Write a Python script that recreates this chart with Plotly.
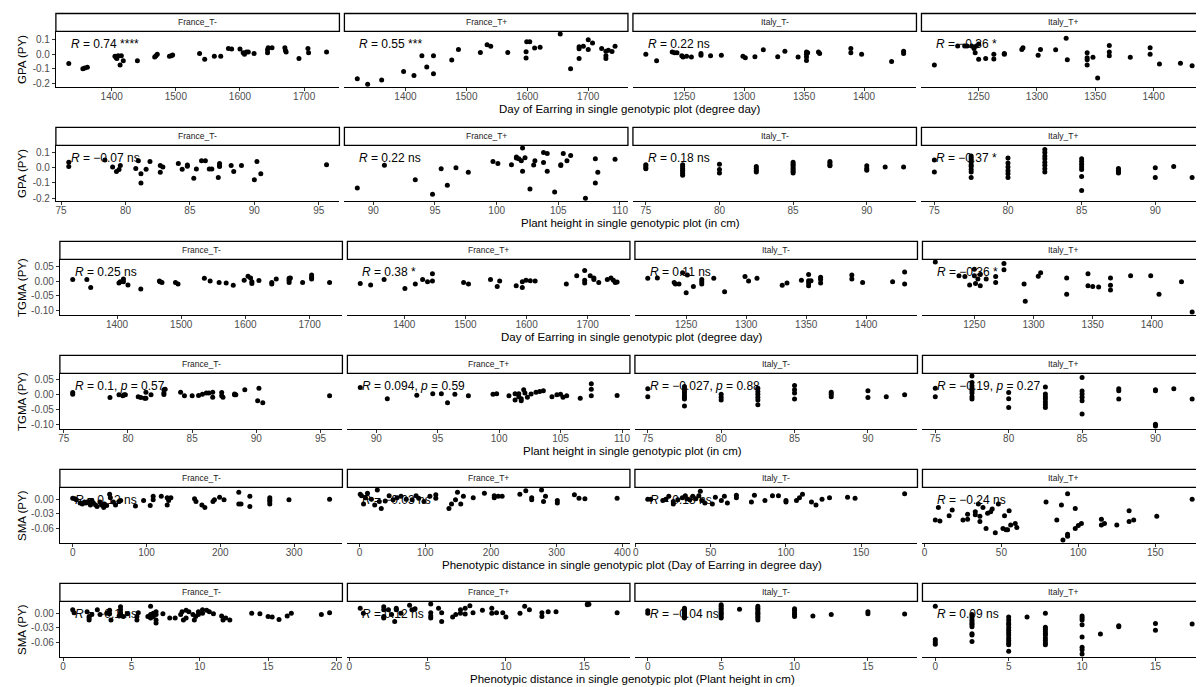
import plotly.graph_objects as go

FIG_W, FIG_H = 1204, 687
PAGE_OFF = 8  # browser default body margin

panel_names = ["France_T-", "France_T+", "Italy_T-", "Italy_T+"]
y_titles = ["GPA (PY)", "GPA (PY)", "TGMA (PY)", "TGMA (PY)", "SMA (PY)", "SMA (PY)"]
x_titles = [
    "Day of Earring in single genotypic plot (degree day)",
    "Plant height in single genotypic plot (in cm)",
    "Day of Earring in single genotypic plot (degree day)",
    "Plant height in single genotypic plot (in cm)",
    "Phenotypic distance in single genotypic plot (Day of Earring in degree day)",
    "Phenotypic distance in single genotypic plot (Plant height in cm)",
]

# y tick labels per row
gpa_ticks = [0.1, 0.0, -0.1, -0.2]
gpa_ticktext = ["0.1", "0.0", "-0.1", "-0.2"]
tgma_ticks = [0.05, 0.0, -0.05, -0.10]
tgma_ticktext = ["0.05", "0.00", "-0.05", "-0.10"]
sma_ticks = [0.0, -0.03, -0.06]
sma_ticktext = ["0.00", "-0.03", "-0.06"]

# x tick labels per panel
doe_fr_ticks = [1400, 1500, 1600, 1700]
doe_it_ticks = [1250, 1300, 1350, 1400]
ph_frm_ticks = [75, 80, 85, 90, 95]
ph_frp_ticks = [90, 95, 100, 105, 110]
ph_it_ticks = [75, 80, 85, 90]
dd_frm_ticks = [0, 100, 200, 300]
dd_frp_ticks = [0, 100, 200, 300, 400]
dd_it_ticks = [0, 50, 100, 150]
dh_frm_ticks = [0, 5, 10, 15, 20]
dh_ticks = [0, 5, 10, 15]

# correlation labels
r1_labels = ["<i>R</i> = 0.74 ****", "<i>R</i> = 0.55 ***", "<i>R</i> = 0.22 ns", "<i>R</i> = −0.36 *"]
r2_labels = ["<i>R</i> = −0.07 ns", "<i>R</i> = 0.22 ns", "<i>R</i> = 0.18 ns", "<i>R</i> = −0.37 *"]
r3_labels = ["<i>R</i> = 0.25 ns", "<i>R</i> = 0.38 *", "<i>R</i> = 0.11 ns", "<i>R</i> = −0.36 *"]
r4_labels = ["<i>R</i> = 0.1, <i>p</i> = 0.57", "<i>R</i> = 0.094, <i>p</i> = 0.59",
             "<i>R</i> = −0.027, <i>p</i> = 0.88", "<i>R</i> = −0.19, <i>p</i> = 0.27"]
r5_labels = ["<i>R</i> = 0.12 ns", "<i>R</i> = −0.03 ns", "<i>R</i> = 0.13 ns", "<i>R</i> = −0.24 ns"]
r6_labels = ["<i>R</i> = −0.1 ns", "<i>R</i> = 0.12 ns", "<i>R</i> = −0.04 ns", "<i>R</i> = 0.09 ns"]

# ---------------- Row 1: GPA vs Day of Earring ----------------
r1_p1_x = [1333,1355,1358,1362,1405,1407,1408,1410,1413,1415,1418,1440,1467,1469,1471,1490,1493,1495,1537,1545,1560,1570,1582,1587,1600,1605,1607,1610,1613,1622,1643,1643,1644,1650,1670,1671,1672,1692,1706,1707,1735]
r1_p1_y = [-0.065,-0.100,-0.095,-0.090,-0.015,-0.025,-0.030,-0.010,-0.075,-0.010,-0.045,-0.045,-0.020,-0.010,0.000,-0.015,-0.010,-0.005,0.005,-0.035,-0.015,-0.015,0.040,0.035,0.035,0.010,0.000,0.015,0.015,0.005,0.010,0.030,0.045,0.045,0.045,0.025,0.015,-0.030,0.040,0.010,0.015]
r1_p2_x = [1321,1338,1361,1397,1414,1427,1435,1446,1446,1476,1487,1523,1534,1540,1568,1599,1604,1598,1598,1612,1621,1654,1671,1685,1685,1685,1692,1700,1700,1707,1722,1729,1729,1729,1733,1739,1744]
r1_p2_y = [-0.170,-0.207,-0.178,-0.120,-0.147,-0.010,-0.088,-0.010,-0.135,-0.040,0.033,0.012,0.065,0.055,0.012,0.085,0.085,0.016,-0.027,0.043,0.048,0.140,-0.100,0.038,0.052,-0.030,0.055,0.100,0.033,0.078,0.040,0.020,-0.010,-0.030,0.027,0.018,0.055]
r1_p3_x = [1218,1227,1240,1242,1244,1248,1249,1252,1256,1264,1264,1272,1281,1299,1301,1309,1316,1328,1334,1345,1352,1352,1352,1352,1353,1362,1363,1389,1389,1398,1423,1433,1433]
r1_p3_y = [0.000,-0.045,0.015,0.010,0.010,-0.010,-0.020,-0.015,-0.020,0.005,-0.007,-0.010,-0.007,-0.015,-0.025,-0.017,0.030,-0.017,0.020,-0.020,0.015,0.000,-0.020,-0.043,0.010,0.015,0.005,0.040,0.010,0.000,-0.050,0.020,0.005]
r1_p4_x = [1212,1232,1238,1240,1244,1246,1247,1248,1250,1250,1256,1263,1263,1272,1272,1287,1288,1301,1303,1316,1325,1326,1343,1343,1343,1343,1348,1352,1362,1362,1362,1380,1397,1397,1405,1423,1433]
r1_p4_y = [-0.075,0.057,0.057,0.057,0.057,0.040,0.010,0.057,0.070,-0.035,-0.030,0.000,-0.033,0.000,0.005,0.033,0.045,-0.007,0.033,0.030,0.110,-0.038,0.010,-0.025,-0.038,-0.075,-0.022,-0.165,0.060,0.015,-0.010,-0.022,0.045,0.000,-0.067,-0.062,-0.080]

# ---------------- Row 2: GPA vs Plant height ----------------
r2_p1_x = [75.6,75.6,78.4,79.0,79.3,79.5,79.6,80.8,81.0,81.2,81.2,81.6,81.9,82.7,82.7,82.9,84.1,84.4,84.8,84.8,85.3,85.5,85.9,86.2,86.5,86.7,87.2,87.3,87.3,87.3,88.2,88.4,89.0,90.0,90.2,90.5,95.6]
r2_p1_y = [0.035,0.007,0.050,0.005,-0.025,-0.012,0.015,-0.005,0.045,-0.040,-0.100,-0.010,0.040,0.015,-0.030,0.005,0.027,-0.010,0.017,0.010,-0.070,-0.008,0.045,0.045,-0.008,-0.008,-0.065,0.027,0.015,0.007,0.015,-0.025,0.015,-0.080,0.040,-0.040,0.020]
r2_p2_x = [88.7,90.9,93.4,94.8,95.5,96.0,96.7,97.7,99.7,100.1,101.2,101.6,101.6,101.8,102.0,102.1,102.1,102.3,102.7,103.0,103.1,103.8,104.1,103.8,104.1,104.7,105.2,105.2,105.4,105.7,106.0,107.2,108.0,108.0,108.2,109.6]
r2_p2_y = [-0.133,0.016,-0.080,-0.175,-0.007,-0.116,0.000,-0.030,0.040,0.028,0.020,0.070,0.063,0.058,0.045,0.130,-0.023,0.065,-0.140,0.018,0.045,0.100,0.093,0.034,-0.023,-0.160,0.020,0.015,0.093,0.045,0.080,-0.200,0.058,-0.100,-0.030,0.055]
r2_p3_x = [75,75,75,75,77.5,77.5,77.5,77.5,77.5,77.5,77.5,80,80,80,82.5,82.5,82.5,82.5,85,85,85,85,85,85,85,87.5,87.5,87.5,87.5,90,90,90,91.25,92.5]
r2_p3_y = [0.020,0.012,0.000,-0.007,0.020,0.007,-0.005,-0.016,-0.028,-0.040,-0.050,0.023,-0.012,-0.035,0.007,-0.005,-0.019,-0.028,0.035,0.023,0.012,0.000,-0.012,-0.023,-0.035,0.040,0.030,0.018,0.012,0.012,-0.005,-0.016,0.005,0.005]
r2_p4_x = [75,75,77.5,77.5,77.5,77.5,77.5,77.5,77.5,77.5,77.5,80,80,80,80,80,80,82.5,82.5,82.5,82.5,82.5,82.5,82.5,82.5,85,85,85,85,85,85,85,87.5,87.5,87.5,87.5,90,90,91.25,92.5]
r2_p4_y = [0.050,-0.028,0.077,0.063,0.050,0.035,0.018,0.007,-0.012,-0.028,-0.065,0.063,0.030,0.005,-0.020,-0.040,-0.065,0.120,0.100,0.077,0.058,0.035,0.016,-0.007,-0.028,0.058,0.040,0.023,0.005,-0.012,-0.058,-0.150,-0.005,-0.016,-0.028,-0.035,0.000,-0.065,0.007,-0.065]

# ---------------- Row 3: TGMA vs Day of Earring ----------------
r3_p1_x = [1331,1353,1359,1403,1405,1410,1410,1417,1437,1466,1467,1470,1491,1495,1536,1545,1559,1570,1581,1598,1604,1608,1610,1610,1621,1641,1641,1648,1668,1668,1668,1670,1689,1703,1703,1703,1731]
r3_p1_y = [0.005,0.005,-0.022,-0.007,-0.002,0.007,-0.002,-0.013,-0.027,0.000,-0.002,-0.005,-0.005,-0.010,0.009,0.000,-0.005,-0.007,-0.014,0.003,0.016,0.010,-0.002,-0.008,0.002,-0.005,-0.010,0.007,0.009,0.003,-0.005,0.010,-0.005,0.020,0.013,0.007,-0.005]
r3_p2_x = [1328,1345,1367,1401,1418,1430,1438,1446,1446,1497,1505,1541,1552,1556,1583,1593,1593,1599,1606,1614,1665,1682,1695,1695,1695,1704,1710,1710,1718,1732,1738,1742,1745,1748]
r3_p2_y = [-0.008,-0.013,0.005,-0.025,-0.010,0.005,-0.002,0.024,0.000,-0.005,-0.010,0.005,-0.018,0.000,-0.016,-0.002,-0.022,0.003,0.001,0.000,-0.010,0.018,0.035,0.003,-0.007,0.018,0.010,0.005,-0.005,0.005,0.010,0.003,-0.005,-0.003]
r3_p3_x = [1218,1226,1240,1241,1244,1247,1250,1251,1256,1263,1263,1263,1273,1282,1299,1302,1309,1330,1334,1346,1352,1352,1352,1352,1354,1362,1362,1362,1388,1388,1397,1422,1432,1432]
r3_p3_y = [0.009,0.010,-0.005,-0.010,-0.010,0.028,-0.039,0.020,-0.018,0.005,-0.002,-0.010,0.009,-0.036,0.015,0.000,0.009,-0.014,-0.007,0.003,0.022,0.001,-0.007,-0.016,0.001,0.013,0.005,-0.007,0.020,0.007,-0.005,-0.002,0.030,-0.010]
r3_p4_x = [1217,1237,1242,1246,1250,1250,1251,1253,1255,1255,1260,1268,1268,1275,1275,1292,1293,1304,1306,1328,1328,1346,1346,1350,1355,1365,1365,1365,1382,1399,1406,1425,1434]
r3_p4_y = [0.064,0.018,0.015,-0.013,0.039,0.018,-0.008,0.007,0.022,-0.016,0.007,0.015,-0.005,0.059,0.038,-0.010,-0.068,0.016,0.028,0.010,-0.044,0.024,-0.016,-0.018,-0.020,0.010,-0.014,-0.030,0.018,0.018,-0.044,-0.002,-0.104]

# ---------------- Row 4: TGMA vs Plant height ----------------
r4_p1_x = [75.7,75.7,78.6,79.3,79.6,79.7,79.8,80.8,81.0,81.3,81.4,81.4,81.8,82.8,82.8,82.8,82.9,84.1,84.4,85.0,85.5,85.8,86.1,86.3,86.6,86.6,87.3,87.3,87.4,88.3,88.3,88.4,89.1,90.1,90.2,90.5,95.7]
r4_p1_y = [0.008,0.002,-0.009,0.000,-0.003,0.000,0.000,-0.006,-0.009,-0.011,0.009,-0.011,0.000,0.017,0.006,0.001,0.019,0.009,-0.003,-0.003,-0.002,0.002,0.006,0.006,0.009,-0.008,0.008,-0.003,-0.008,0.003,0.000,0.000,0.017,-0.020,0.022,-0.026,-0.003]
r4_p2_x = [88.7,90.9,93.3,94.6,95.3,95.8,96.4,97.5,99.5,99.8,100.8,101.3,101.3,101.6,101.6,101.8,101.8,102.0,102.1,102.3,102.6,103.0,103.3,103.6,104.3,104.7,105.0,105.2,105.5,106.6,107.5,107.5,107.5,109.6]
r4_p2_y = [0.024,-0.013,-0.001,0.004,0.004,-0.026,0.002,-0.003,0.002,0.004,-0.003,0.004,-0.017,0.004,-0.006,-0.013,-0.020,0.017,0.006,-0.008,0.003,0.009,0.011,0.014,-0.006,0.000,0.002,-0.008,-0.003,-0.011,0.037,0.019,-0.003,-0.002]
r4_p3_x = [75,75,77.5,77.5,77.5,77.5,77.5,77.5,77.5,77.5,80,80,80,82.5,82.5,82.5,82.5,82.5,82.5,85,85,85,85,87.5,87.5,87.5,90,90,91.25,92.5]
r4_p3_y = [0.020,-0.006,0.028,0.020,0.013,0.006,-0.002,-0.009,-0.014,-0.037,0.002,-0.008,-0.017,0.022,0.011,0.002,-0.008,-0.017,-0.033,0.031,0.017,0.006,-0.014,0.009,0.002,-0.006,0.014,-0.009,-0.006,0.000]
r4_p4_x = [75,75,77.5,77.5,77.5,77.5,77.5,77.5,77.5,77.5,80,80,80,82.5,82.5,82.5,82.5,82.5,82.5,82.5,85,85,85,85,85,85,87.5,87.5,87.5,90,90,90,90,91.25,92.5]
r4_p4_y = [0.022,-0.006,0.063,0.041,0.030,0.022,0.014,0.006,-0.006,-0.014,0.008,-0.013,-0.042,0.026,0.003,-0.006,-0.014,-0.024,-0.033,-0.042,0.058,0.013,0.003,-0.008,-0.020,-0.064,0.020,0.014,-0.014,0.017,0.014,-0.098,-0.104,0.020,-0.014]

# ---------------- Row 5: SMA vs phenotypic distance (Day of Earring) ----------------
r5_p1_x = [0,3,5,10,13,16,18,21,24,26,28,31,33,37,39,42,43,46,50,51,55,58,63,65,85,96,105,109,109,120,128,128,130,130,133,165,167,175,179,190,192,199,205,225,225,228,240,240,267,267,267,267,293,348]
r5_p1_y = [0.002,0.001,-0.001,-0.008,-0.010,-0.006,-0.008,-0.005,-0.012,-0.003,-0.008,-0.012,-0.015,-0.006,-0.012,-0.017,-0.010,-0.013,0.010,0.003,-0.006,-0.012,-0.005,-0.003,-0.014,-0.003,-0.013,0.006,-0.001,0.006,0.003,-0.012,0.001,-0.003,0.003,0.001,-0.005,-0.012,-0.017,-0.005,-0.001,0.004,-0.001,0.014,-0.010,-0.010,0.006,-0.015,0.003,-0.001,-0.005,-0.010,-0.001,0.000]
r5_p2_x = [1,3,6,9,12,18,23,27,30,33,39,45,51,57,63,71,80,86,90,98,107,116,116,136,140,146,149,154,158,173,190,205,205,211,217,244,253,262,262,277,280,283,301,301,327,334,343,392]
r5_p2_y = [0.010,0.007,-0.010,0.003,0.012,0.000,-0.012,0.019,-0.005,-0.019,-0.004,0.007,-0.001,0.003,0.006,0.000,-0.001,0.007,0.002,-0.005,0.006,0.009,0.002,-0.019,-0.010,-0.001,0.014,-0.010,0.006,0.003,0.012,0.003,0.007,0.006,0.006,0.010,0.017,0.003,-0.001,0.019,-0.005,0.006,-0.003,-0.008,0.009,0.002,0.001,0.002]
r5_p3_x = [8,10,18,20,22,25,25,28,31,33,34,36,38,40,42,43,44,46,51,53,57,59,61,67,67,77,79,86,91,95,100,100,107,109,111,117,120,124,129,141,146,179]
r5_p3_y = [0.000,0.000,-0.003,0.000,0.006,-0.005,-0.010,-0.001,0.003,0.007,0.001,-0.001,0.006,0.001,0.007,0.016,-0.003,-0.008,-0.010,0.004,-0.003,0.006,-0.008,0.003,0.008,-0.006,0.008,-0.003,0.007,0.007,-0.003,-0.006,-0.003,0.003,0.010,-0.006,-0.012,0.000,0.003,0.004,0.002,0.011]
r5_p4_x = [7,9,10,16,18,25,28,28,33,33,35,36,36,38,40,41,43,44,46,48,51,52,53,54,55,56,59,60,79,86,89,90,93,93,93,98,98,100,102,115,115,117,125,133,133,136,151,174]
r5_p4_y = [-0.043,-0.017,-0.045,-0.034,-0.022,-0.043,-0.041,-0.031,-0.032,-0.026,-0.010,-0.035,-0.046,-0.017,-0.060,-0.029,-0.026,-0.020,-0.069,-0.010,-0.060,-0.034,-0.063,-0.063,-0.024,-0.053,-0.050,-0.058,-0.006,-0.043,-0.012,-0.084,0.011,-0.072,-0.076,-0.019,-0.060,-0.054,-0.050,-0.041,-0.053,-0.050,-0.053,-0.024,-0.046,-0.043,-0.035,0.000]

# ---------------- Row 6: SMA vs phenotypic distance (Plant height) ----------------
r6_p1_x = [0.7,0.8,1.75,1.9,1.9,1.9,2.1,2.5,2.7,3.2,3.4,3.4,3.5,4.1,4.2,4.2,4.2,4.2,4.4,4.7,5.4,5.4,5.5,6.2,6.4,6.4,6.4,6.6,6.6,6.8,6.8,6.8,6.8,7.3,7.8,8.2,8.6,8.7,8.8,9.0,9.0,9.2,9.5,9.6,9.7,9.9,9.9,10.2,10.2,10.5,10.7,11.0,11.6,11.7,11.9,12.2,13.8,14.4,15.0,15.3,15.8,16.4,16.7,18.9,19.5]
r6_p1_y = [0.007,0.001,0.003,-0.007,-0.010,-0.014,-0.003,0.007,-0.003,0.000,0.006,-0.001,-0.014,-0.006,0.013,0.007,0.001,-0.003,-0.007,-0.001,-0.007,-0.014,0.001,-0.007,0.014,-0.003,-0.010,0.000,-0.007,-0.003,-0.014,-0.020,0.003,-0.001,-0.010,-0.010,-0.003,0.003,-0.014,0.006,-0.010,0.003,-0.003,-0.014,-0.007,0.003,-0.003,0.007,0.000,0.006,0.003,-0.001,-0.006,-0.014,-0.010,-0.014,0.000,-0.001,-0.007,-0.008,-0.013,-0.006,0.000,-0.003,0.001]
r6_p2_x = [0.7,0.9,2.2,2.2,2.2,2.2,2.5,2.7,2.9,3.0,3.0,3.3,3.85,4.0,4.2,5.2,5.2,5.2,5.2,5.7,5.9,5.9,6.6,6.8,7.1,7.1,7.4,7.4,7.7,7.9,8.5,9.1,9.1,9.4,9.8,10.0,10.9,11.2,11.5,12.3,12.3,12.7,13.2,15.2,15.2,15.3,17.1]
r6_p2_y = [0.010,0.000,0.013,0.007,-0.007,-0.010,0.007,-0.003,-0.017,0.010,0.007,0.000,0.016,0.007,0.009,0.019,0.001,-0.006,-0.010,0.010,0.001,-0.017,-0.008,-0.003,0.007,0.000,0.010,-0.002,0.015,0.001,0.006,0.010,0.000,0.001,0.001,-0.008,0.000,0.014,0.007,0.001,-0.007,0.003,0.003,0.019,0.017,0.018,0.001]
r6_p3_x = [0,0,2.5,2.5,2.5,2.5,2.5,2.5,2.5,5,5,5,5,5,5,5,5,5,6.25,7.5,7.5,7.5,7.5,7.5,7.5,7.5,7.5,7.5,10,10,10,10,10,11.25,12.5,15,15,17.5]
r6_p3_y = [0.005,0.000,0.010,0.007,0.003,0.000,-0.003,-0.007,-0.010,0.017,0.014,0.010,0.007,0.003,0.000,-0.003,-0.007,-0.010,0.008,0.014,0.010,0.007,0.003,0.000,-0.003,-0.007,-0.010,-0.014,0.009,0.006,0.001,-0.003,-0.007,-0.006,-0.003,0.003,-0.001,-0.002]
r6_p4_x = [0,0,0,0,2.5,2.5,2.5,2.5,2.5,2.5,2.5,2.5,2.5,2.5,5,5,5,5,5,5,5,5,5,5,5,5,5,6.25,7.5,7.5,7.5,7.5,7.5,7.5,7.5,7.5,7.5,7.5,10,10,10,10,10,10,10,10,11.25,12.5,12.5,15,15,17.5]
r6_p4_y = [0.014,-0.054,-0.059,-0.064,-0.003,-0.008,-0.013,-0.017,-0.021,-0.024,-0.028,-0.042,-0.045,-0.058,-0.008,-0.014,-0.020,-0.024,-0.030,-0.035,-0.040,-0.045,-0.051,-0.056,-0.061,-0.065,-0.078,-0.008,0.000,-0.029,-0.033,-0.038,-0.042,-0.045,-0.051,-0.056,-0.061,-0.065,-0.006,-0.010,-0.014,-0.024,-0.049,-0.070,-0.075,-0.084,-0.043,-0.026,-0.028,-0.021,-0.035,-0.022]

rows = [
    dict(xs=[r1_p1_x, r1_p2_x, r1_p3_x, r1_p4_x], ys=[r1_p1_y, r1_p2_y, r1_p3_y, r1_p4_y],
         xt=[doe_fr_ticks, doe_fr_ticks, doe_it_ticks, doe_it_ticks], yt=gpa_ticks, ytt=gpa_ticktext, labels=r1_labels),
    dict(xs=[r2_p1_x, r2_p2_x, r2_p3_x, r2_p4_x], ys=[r2_p1_y, r2_p2_y, r2_p3_y, r2_p4_y],
         xt=[ph_frm_ticks, ph_frp_ticks, ph_it_ticks, ph_it_ticks], yt=gpa_ticks, ytt=gpa_ticktext, labels=r2_labels),
    dict(xs=[r3_p1_x, r3_p2_x, r3_p3_x, r3_p4_x], ys=[r3_p1_y, r3_p2_y, r3_p3_y, r3_p4_y],
         xt=[doe_fr_ticks, doe_fr_ticks, doe_it_ticks, doe_it_ticks], yt=tgma_ticks, ytt=tgma_ticktext, labels=r3_labels),
    dict(xs=[r4_p1_x, r4_p2_x, r4_p3_x, r4_p4_x], ys=[r4_p1_y, r4_p2_y, r4_p3_y, r4_p4_y],
         xt=[ph_frm_ticks, ph_frp_ticks, ph_it_ticks, ph_it_ticks], yt=tgma_ticks, ytt=tgma_ticktext, labels=r4_labels),
    dict(xs=[r5_p1_x, r5_p2_x, r5_p3_x, r5_p4_x], ys=[r5_p1_y, r5_p2_y, r5_p3_y, r5_p4_y],
         xt=[dd_frm_ticks, dd_frp_ticks, dd_it_ticks, dd_it_ticks], yt=sma_ticks, ytt=sma_ticktext, labels=r5_labels),
    dict(xs=[r6_p1_x, r6_p2_x, r6_p3_x, r6_p4_x], ys=[r6_p1_y, r6_p2_y, r6_p3_y, r6_p4_y],
         xt=[dh_frm_ticks, dh_ticks, dh_ticks, dh_ticks], yt=sma_ticks, ytt=sma_ticktext, labels=r6_labels),
]

# ---------------- layout geometry (page pixels) ----------------
ROW_H = 114.5
STRIP_TOP, PANEL_TOP, PANEL_BOT, XTITLE_Y = 13.5, 31.5, 87.0, 109.0
LEFTS = [54, 54, 58, 58, 58, 58]
RIGHT = 1206
GAP = 5

# drawing area: the page places the plot div PAGE_OFF px in from the top-left
DRAW_W, DRAW_H = FIG_W - PAGE_OFF, FIG_H - PAGE_OFF

FONT = "Liberation Sans, Arial, sans-serif"
TICK_COLOR = "#4D4D4D"


def px(x):
    return (x - PAGE_OFF) / DRAW_W


def py(y):
    return 1 - (y - PAGE_OFF) / DRAW_H


def expand(vals, mult=0.05):
    lo, hi = min(vals), max(vals)
    d = (hi - lo) * mult
    return lo - d, hi + d


def fmt(v):
    return "%g" % v


fig = go.Figure()
annotations = []
shapes = []
layout_axes = {}

k = 0
for r, row in enumerate(rows):
    top = r * ROW_H
    L = LEFTS[r]
    W = (RIGHT - L - 3 * GAP) / 4.0
    all_y = [v for ys in row["ys"] for v in ys]
    ylo, yhi = expand(all_y)
    pt, pb = top + PANEL_TOP, top + PANEL_BOT
    for i in range(4):
        k += 1
        x0 = L + i * (W + GAP)
        x1 = x0 + W
        xlo, xhi = expand(row["xs"][i])
        vis_x1 = min(x1, FIG_W)
        if x1 > FIG_W:
            xhi = xlo + (xhi - xlo) * (FIG_W - x0) / (x1 - x0)
        xa = "xaxis" if k == 1 else "xaxis%d" % k
        ya = "yaxis" if k == 1 else "yaxis%d" % k
        xref = "x" if k == 1 else "x%d" % k
        yref = "y" if k == 1 else "y%d" % k
        layout_axes[xa] = dict(
            domain=[px(x0), min(1.0, px(vis_x1))], anchor=yref, range=[xlo, xhi],
            tickvals=row["xt"][i], ticktext=[fmt(v) for v in row["xt"][i]],
            showgrid=False, zeroline=False, showline=True, linecolor="black", linewidth=1,
            ticks="outside", ticklen=3, tickwidth=1, tickcolor="#333333", ticklabelstandoff=-3,
            tickfont=dict(family=FONT, size=10, color=TICK_COLOR), fixedrange=True,
        )
        ya_cfg = dict(
            domain=[py(pb), py(pt)], anchor=xref, range=[ylo, yhi],
            showgrid=False, zeroline=False, fixedrange=True,
        )
        if i == 0:
            ya_cfg.update(
                tickvals=row["yt"], ticktext=row["ytt"], showline=True, linecolor="black", linewidth=1,
                ticks="outside", ticklen=3, tickwidth=1, tickcolor="#333333",
                tickfont=dict(family=FONT, size=10, color=TICK_COLOR),
            )
        else:
            ya_cfg.update(showticklabels=False, showline=False, ticks="")
        layout_axes[ya] = ya_cfg

        fig.add_trace(go.Scatter(
            x=row["xs"][i], y=row["ys"][i], mode="markers", xaxis=xref, yaxis=yref,
            marker=dict(color="black", size=5), cliponaxis=False, hoverinfo="skip",
        ))

        # strip
        shapes.append(dict(type="rect", xref="paper", yref="paper",
                           x0=px(x0), x1=px(x1), y0=py(top + PANEL_TOP), y1=py(top + STRIP_TOP),
                           line=dict(color="black", width=1.3), fillcolor="white", layer="above"))
        annotations.append(dict(text=panel_names[i], xref="paper", yref="paper",
                                x=px((x0 + x1) / 2),
                                y=py(top + (STRIP_TOP + PANEL_TOP) / 2),
                                showarrow=False, xanchor="center", yanchor="middle",
                                font=dict(family=FONT, size=8.5, color="#1A1A1A")))
        # correlation label
        annotations.append(dict(text=row["labels"][i], xref=xref, yref="paper",
                                x=min(row["xs"][i]), y=py(pt + 12.5),
                                showarrow=False, xanchor="left", yanchor="middle",
                                font=dict(family=FONT, size=12, color="black")))

    # y title
    annotations.append(dict(text=y_titles[r], xref="paper", yref="paper",
                            x=px(20), y=py((pt + pb) / 2), textangle=-90,
                            showarrow=False, xanchor="center", yanchor="middle",
                            font=dict(family=FONT, size=11.5, color="black")))
    # x title
    annotations.append(dict(text=x_titles[r], xref="paper", yref="paper",
                            x=px((L + RIGHT) / 2), y=py(top + XTITLE_Y),
                            showarrow=False, xanchor="center", yanchor="middle",
                            font=dict(family=FONT, size=11.5, color="black")))

fig.update_layout(
    width=DRAW_W, height=DRAW_H, margin=dict(l=0, r=0, t=0, b=0),
    paper_bgcolor="white", plot_bgcolor="white", showlegend=False,
    annotations=annotations, shapes=shapes, **layout_axes,
)

fig.write_html("out.html")
